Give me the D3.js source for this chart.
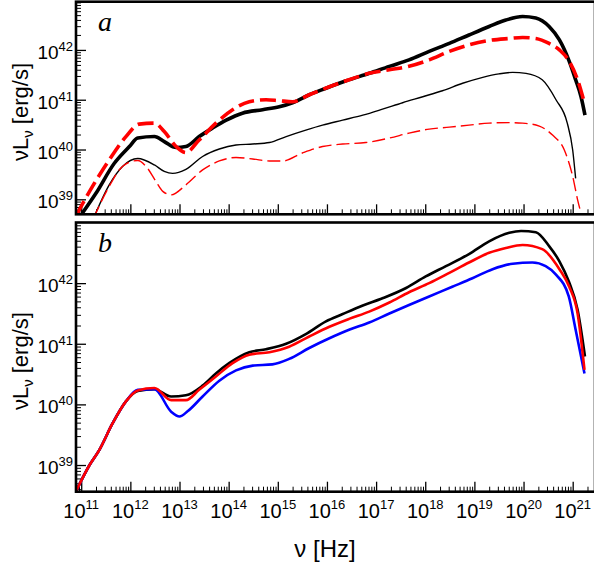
<!DOCTYPE html>
<html>
<head>
<meta charset="utf-8">
<script src="https://cdn.jsdelivr.net/npm/d3@7"></script>
<style>
  body { margin: 0; background: #fff; }
  text { font-family: "Liberation Sans", Arial, sans-serif; fill: #000; }
</style>
</head>
<body>
<svg id="chart" width="594" height="562"></svg>
<script>
// values, as log10(nu) and log10(nuLnu)
var topThickBlackNu = [10.95, 11.30, 11.67, 11.98, 12.15, 12.49, 12.69, 12.93, 13.13, 13.40, 13.67, 13.95, 14.28, 14.69, 15.03, 15.30, 15.64, 15.98, 16.39, 16.86, 17.27, 17.67, 18.08, 18.49, 18.89, 19.30, 19.64, 19.98, 20.25, 20.52, 20.73, 20.93, 21.06, 21.17, 21.25];
var topThickBlackL  = [38.62, 39.12, 39.72, 40.06, 40.23, 40.26, 40.16, 40.04, 40.06, 40.26, 40.43, 40.59, 40.73, 40.80, 40.86, 40.94, 41.10, 41.23, 41.38, 41.53, 41.67, 41.80, 41.97, 42.13, 42.30, 42.47, 42.60, 42.67, 42.64, 42.47, 42.20, 41.77, 41.40, 41.06, 40.69];

var topThickRedNu = [10.90, 11.23, 11.57, 11.91, 12.18, 12.49, 12.69, 12.93, 13.13, 13.40, 13.74, 14.08, 14.42, 14.76, 15.03, 15.30, 15.64, 16.05, 16.45, 16.86, 17.27, 17.67, 18.08, 18.49, 18.89, 19.30, 19.71, 19.98, 20.25, 20.52, 20.73, 20.93, 21.10, 21.24];
var topThickRedL  = [38.68, 39.26, 39.79, 40.26, 40.51, 40.53, 40.36, 40.06, 39.94, 40.19, 40.53, 40.80, 40.96, 41.00, 40.98, 40.96, 41.10, 41.26, 41.40, 41.53, 41.60, 41.67, 41.80, 41.97, 42.10, 42.19, 42.23, 42.25, 42.23, 42.13, 42.00, 41.77, 41.40, 40.93];

var topThinBlackNu = [11.25, 11.57, 11.84, 12.15, 12.49, 12.69, 12.86, 13.13, 13.47, 13.81, 14.15, 14.49, 14.83, 15.17, 15.57, 15.91, 16.32, 16.73, 17.13, 17.54, 17.95, 18.35, 18.76, 19.17, 19.50, 19.78, 20.05, 20.38, 20.66, 20.89, 21.00, 21.06];
var topThinBlackL  = [38.62, 39.29, 39.66, 39.82, 39.69, 39.56, 39.52, 39.60, 39.86, 40.01, 40.09, 40.11, 40.14, 40.26, 40.39, 40.49, 40.59, 40.69, 40.81, 40.94, 41.06, 41.18, 41.33, 41.45, 41.52, 41.55, 41.53, 41.40, 41.00, 40.53, 39.99, 39.42];

var topThinRedNu = [11.25, 11.57, 11.84, 12.15, 12.32, 12.52, 12.66, 12.83, 13.13, 13.47, 13.81, 14.15, 14.49, 14.83, 15.10, 15.50, 15.91, 16.32, 16.79, 17.27, 17.67, 18.08, 18.49, 18.89, 19.30, 19.71, 19.98, 20.32, 20.59, 20.83, 21.00, 21.10, 21.19];
var topThinRedL  = [38.62, 39.26, 39.66, 39.78, 39.66, 39.36, 39.16, 39.09, 39.29, 39.59, 39.77, 39.84, 39.81, 39.77, 39.77, 39.93, 40.06, 40.11, 40.14, 40.23, 40.33, 40.41, 40.45, 40.49, 40.53, 40.54, 40.53, 40.47, 40.29, 39.99, 39.46, 38.99, 38.65];

var botBlackNu = [10.89, 11.17, 11.37, 11.64, 11.91, 12.15, 12.49, 12.83, 13.13, 13.47, 13.74, 14.01, 14.42, 14.76, 15.17, 15.57, 15.98, 16.32, 16.73, 17.13, 17.61, 18.01, 18.42, 18.89, 19.30, 19.71, 19.95, 20.25, 20.52, 20.73, 20.92, 21.10, 21.25];
var botBlackL  = [38.56, 39.00, 39.25, 39.69, 40.05, 40.22, 40.25, 40.13, 40.15, 40.31, 40.51, 40.68, 40.86, 40.91, 41.00, 41.16, 41.37, 41.49, 41.63, 41.75, 41.92, 42.11, 42.28, 42.48, 42.69, 42.83, 42.86, 42.84, 42.61, 42.36, 42.03, 41.56, 40.79];

var botRedNu = [10.89, 11.17, 11.37, 11.64, 11.91, 12.15, 12.49, 12.83, 13.13, 13.40, 13.74, 14.08, 14.42, 14.83, 15.23, 15.64, 16.05, 16.45, 16.86, 17.27, 17.67, 18.08, 18.49, 18.89, 19.30, 19.64, 19.98, 20.38, 20.73, 20.93, 21.10, 21.24];
var botRedL  = [38.56, 39.00, 39.25, 39.69, 40.05, 40.23, 40.27, 40.07, 40.07, 40.24, 40.46, 40.68, 40.82, 40.86, 40.95, 41.12, 41.28, 41.41, 41.53, 41.68, 41.85, 42.00, 42.17, 42.34, 42.50, 42.58, 42.63, 42.56, 42.23, 41.94, 41.50, 40.57];

var botBlueNu = [10.89, 11.17, 11.37, 11.64, 11.91, 12.15, 12.49, 12.83, 13.00, 13.17, 13.47, 13.81, 14.15, 14.49, 14.89, 15.23, 15.64, 16.05, 16.45, 16.86, 17.27, 17.67, 18.08, 18.55, 18.96, 19.37, 19.78, 20.18, 20.45, 20.66, 20.92, 21.06, 21.24];
var botBlueL  = [38.56, 39.00, 39.25, 39.69, 40.05, 40.24, 40.25, 39.88, 39.80, 39.89, 40.13, 40.39, 40.56, 40.64, 40.66, 40.75, 40.93, 41.09, 41.23, 41.35, 41.50, 41.64, 41.78, 41.94, 42.08, 42.23, 42.32, 42.34, 42.28, 42.14, 41.78, 41.23, 40.51];

var xTickExp = [11, 12, 13, 14, 15, 16, 17, 18, 19, 20, 21];
var yTickExp = [39, 40, 41, 42];

var svg = d3.select("#chart");
var left = 76, right = 595;
var panels = [
    { id: "a", top: 1.7, bottom: 214.3, yDomain: [5.0e38, 9.3e42] },
    { id: "b", top: 222.5, bottom: 491.7, yDomain: [3.63e38, 1e43] }
];

var x = d3.scaleLog().domain([7.834e10, 2.844e21]).range([left, right]);

function pairs(nu, l) {
    return nu.map((d, i) => [Math.pow(10, d), Math.pow(10, l[i])]);
}

function minorTicks(domain) {
    var out = [];
    var d0 = Math.floor(Math.log10(domain[0])), d1 = Math.ceil(Math.log10(domain[1]));
    for (var e = d0; e <= d1; e++) {
        for (var k = 2; k <= 9; k++) {
            var v = k * Math.pow(10, e);
            if (v > domain[0] && v < domain[1]) out.push(v);
        }
    }
    return out;
}

function powText(g, exp, baseSize, supSize, rise) {
    g.append("tspan").attr("font-size", baseSize).text("10");
    g.append("tspan").attr("font-size", supSize).attr("dy", -rise).text(exp);
}

panels.forEach(function (p) {
    var y = d3.scaleLog().domain(p.yDomain).range([p.bottom, p.top]);
    p.y = y;
    var g = svg.append("g").attr("id", "panel-" + p.id);

    g.append("clipPath").attr("id", "clip-" + p.id)
        .append("rect")
        .attr("x", left).attr("y", p.top)
        .attr("width", right - left).attr("height", p.bottom - p.top);

    // y ticks, pointing inward
    g.append("g")
        .attr("transform", `translate(${left},0)`)
        .call(d3.axisLeft(y).tickValues(minorTicks(p.yDomain)).tickSize(-5).tickFormat(""))
        .call(a => a.select(".domain").remove())
        .selectAll("line").attr("stroke-width", 1);
    g.append("g")
        .attr("transform", `translate(${left},0)`)
        .call(d3.axisLeft(y).tickValues(yTickExp.map(e => Math.pow(10, e))).tickSize(-10).tickFormat(""))
        .call(a => a.select(".domain").remove())
        .selectAll("line").attr("stroke-width", 1.3);

    // x ticks along the panel bottom
    g.append("g")
        .attr("transform", `translate(0,${p.bottom})`)
        .call(d3.axisBottom(x).tickValues(minorTicks(x.domain())).tickSize(-5).tickFormat(""))
        .call(a => a.select(".domain").remove())
        .selectAll("line").attr("stroke-width", 1);
    g.append("g")
        .attr("transform", `translate(0,${p.bottom})`)
        .call(d3.axisBottom(x).tickValues(xTickExp.map(e => Math.pow(10, e))).tickSize(-10).tickFormat(""))
        .call(a => a.select(".domain").remove())
        .selectAll("line").attr("stroke-width", 1.3);

    // y labels
    g.selectAll(".ylab")
        .data(yTickExp)
        .join("text")
        .attr("class", "ylab")
        .attr("x", left - 3)
        .attr("y", d => y(Math.pow(10, d)) + 9)
        .attr("text-anchor", "end")
        .each(function (d) { powText(d3.select(this), d, 19, 13, 8); });

    // panel letter
    g.append("text")
        .attr("x", left + 22)
        .attr("y", p.top + 29)
        .style("font-family", "'Liberation Serif', 'Times New Roman', serif")
        .style("font-style", "italic")
        .style("font-size", "28px")
        .text(p.id);

    // y title
    var yt = g.append("text")
        .attr("transform", `translate(28,${(p.top + p.bottom) / 2 + 4}) rotate(-90)`)
        .attr("text-anchor", "middle")
        .style("font-size", "22px");
    yt.append("tspan").text("\u03bdL");
    yt.append("tspan").attr("dy", 5).style("font-size", "15px").text("\u03bd");
    yt.append("tspan").attr("dy", -5).text(" [erg/s]");
});

var line = (p) => d3.line()
    .x(d => x(d[0]))
    .y(d => p.y(d[1]))
    .curve(d3.curveMonotoneX);

var seriesA = [
    { nu: topThinBlackNu, l: topThinBlackL, color: "#000", width: 1.4, dash: null },
    { nu: topThinRedNu, l: topThinRedL, color: "#ff0000", width: 1.4, dash: "13,5" },
    { nu: topThickBlackNu, l: topThickBlackL, color: "#000", width: 3.6, dash: null },
    { nu: topThickRedNu, l: topThickRedL, color: "#ff0000", width: 3.6, dash: "16,6" }
];
var seriesB = [
    { nu: botBlackNu, l: botBlackL, color: "#000", width: 2.6, dash: null },
    { nu: botBlueNu, l: botBlueL, color: "#0000ff", width: 2.6, dash: null },
    { nu: botRedNu, l: botRedL, color: "#ff0000", width: 2.6, dash: null }
];

[seriesA, seriesB].forEach(function (series, i) {
    var p = panels[i];
    svg.append("g")
        .attr("clip-path", `url(#clip-${p.id})`)
        .selectAll("path")
        .data(series)
        .join("path")
        .attr("d", d => line(p)(pairs(d.nu, d.l)))
        .attr("fill", "none")
        .attr("stroke", d => d.color)
        .attr("stroke-width", d => d.width)
        .attr("stroke-dasharray", d => d.dash)
        .attr("stroke-linejoin", "round");
});

// frames
panels.forEach(function (p) {
    svg.append("rect")
        .attr("x", left).attr("y", p.top)
        .attr("width", right - left).attr("height", p.bottom - p.top)
        .attr("fill", "none")
        .attr("stroke", "#000")
        .attr("stroke-width", 2.6);
});

// x labels under the lower panel
svg.selectAll(".xlab")
    .data(xTickExp)
    .join("text")
    .attr("class", "xlab")
    .attr("x", d => x(Math.pow(10, d)))
    .attr("y", 518)
    .attr("text-anchor", "middle")
    .each(function (d) { powText(d3.select(this), d, 20, 13, 9); });

svg.append("text")
    .attr("x", 325)
    .attr("y", 557)
    .attr("text-anchor", "middle")
    .style("font-size", "24px")
    .text("\u03bd [Hz]");
</script>
</body>
</html>
